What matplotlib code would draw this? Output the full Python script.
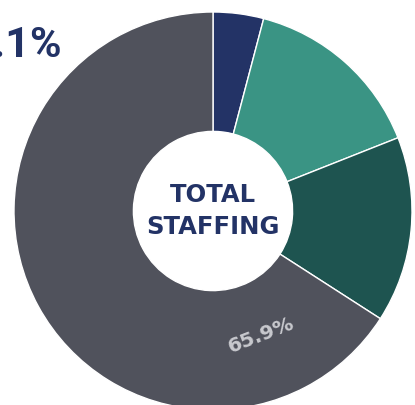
import matplotlib
matplotlib.use("Agg")
import matplotlib.pyplot as plt
import numpy as np

categories = ["Navy", "Teal", "Dark green", "Grey"]
values = [4.1, 14.9, 15.1, 65.9]
colors = ["#233366", "#3a9484", "#1e5450", "#50525c"]
label_first = "4.1%"
label_last = "65.9%"
center_text = "TOTAL\nSTAFFING"

W, H = 415, 405
fig = plt.figure(figsize=(W / 100, H / 100), dpi=100)
ax = fig.add_axes([0, 0, 1, 1])

cx, cy, R = 213, 211, 199
ax.pie(values, colors=colors, startangle=90, counterclock=False,
       radius=1.0, wedgeprops=dict(width=0.6, edgecolor="white", linewidth=1.0))
ax.set_aspect("auto")
ax.set_xlim(-cx / R, (W - cx) / R)
ax.set_ylim(-(H - cy) / R, cy / R)
ax.axis("off")

ax.text(0, 0, center_text, ha="center", va="center", fontsize=17.5,
        fontweight="bold", color="#233366", linespacing=1.38,
        family="DejaVu Sans")

# first label (cropped at left)
ax.text((62 - cx) / R, (cy - 45) / R, label_first, ha="right", va="center",
        fontsize=31, fontweight="bold", color="#233366", family="Roboto")

# label inside grey wedge, near its start
start_grey = sum(values[:3]) / 100 * 360
theta = start_grey + 36
ang = np.deg2rad(90 - theta)
r = 0.67
ax.text(r * np.cos(ang), r * np.sin(ang), label_last, ha="center", va="center",
        rotation=90 - theta + 90, rotation_mode="anchor", fontsize=14.5,
        fontweight="bold", color="#c8c9ce", family="DejaVu Sans")

fig.savefig("out.png", dpi=100)
